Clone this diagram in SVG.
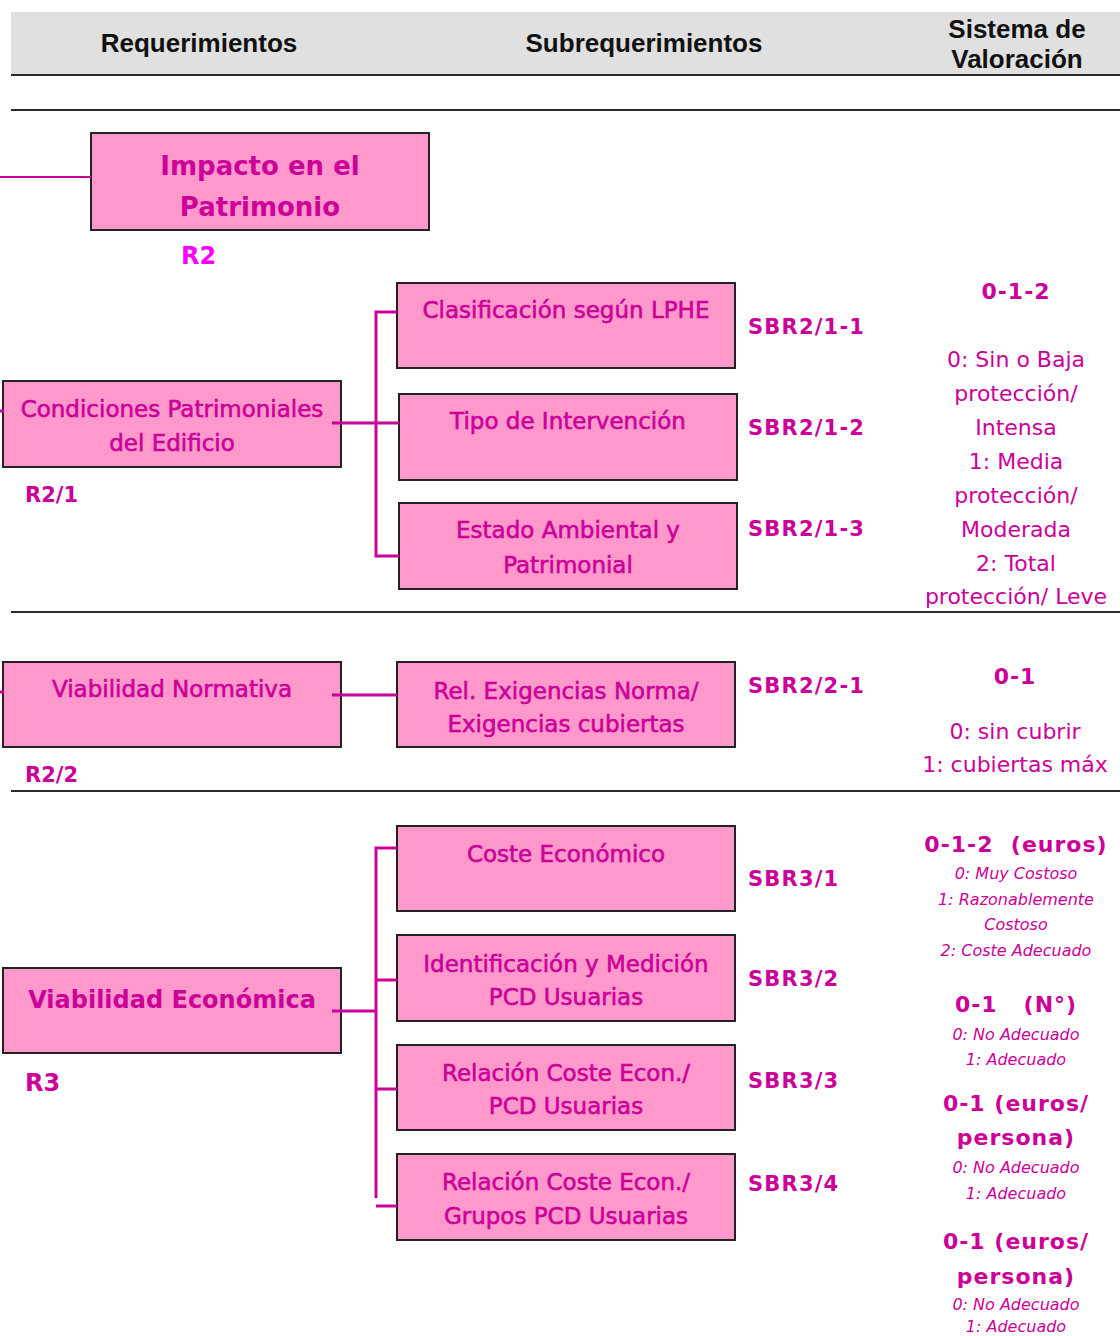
<svg xmlns="http://www.w3.org/2000/svg" width="1120" height="1336" viewBox="0 0 1120 1336">
<style>
.hdr{font-family:"Liberation Sans",Arial,sans-serif;font-weight:bold;font-size:26px;fill:#111;text-anchor:middle}
.rule{stroke:#2a2a2a;stroke-width:2;fill:none}
.box{fill:#FF99CC;stroke:#222;stroke-width:2}
.bt{font-family:"DejaVu Sans",sans-serif;font-size:23px;fill:#CC0099;stroke:#CC0099;stroke-width:0.6;text-anchor:middle}
.bb{font-family:"DejaVu Sans",sans-serif;font-weight:bold;fill:#CC0099;text-anchor:middle}
.lab{font-family:"DejaVu Sans",sans-serif;font-weight:bold;font-size:21px;fill:#CC0099}
.sbr{font-family:"DejaVu Sans",sans-serif;font-weight:bold;font-size:21px;fill:#CC0099;letter-spacing:1.2px}
.vh{font-family:"DejaVu Sans",sans-serif;font-weight:bold;font-size:22px;fill:#CC0099;text-anchor:middle;letter-spacing:1px}
.vr{font-family:"DejaVu Sans",sans-serif;font-size:22px;fill:#CC0099;text-anchor:middle}
.vs{font-family:"DejaVu Sans",sans-serif;font-style:italic;font-size:16px;fill:#CC0099;text-anchor:middle}
.con{stroke:#CC0099;stroke-width:3;fill:none}
</style>

<g id="header">
<rect x="11" y="12" width="1109" height="62" fill="#E0E0E0"/>
<text class="hdr" x="199" y="52">Requerimientos</text>
<text class="hdr" x="644" y="52">Subrequerimientos</text>
<text class="hdr" x="1017" y="38">Sistema de</text>
<text class="hdr" x="1017" y="68">Valoración</text>
<line class="rule" x1="11" y1="75" x2="1120" y2="75"/>
<line class="rule" x1="11" y1="110" x2="1120" y2="110"/>
<line class="rule" x1="11" y1="612" x2="1120" y2="612"/>
<line class="rule" x1="11" y1="791" x2="1120" y2="791"/>
</g>

<g id="node-r2">
<rect class="box" x="91" y="133" width="338" height="97"/>
<text class="bb" x="260" y="175" font-size="26">Impacto en el</text>
<text class="bb" x="260" y="216" font-size="26">Patrimonio</text>
<text class="lab" x="181" y="264" style="fill:#FF00FF;font-size:24px">R2</text>
</g>

<g id="node-r2-1">
<rect class="box" x="3" y="381" width="338" height="86"/>
<text class="bt" x="172" y="417">Condiciones Patrimoniales</text>
<text class="bt" x="172" y="451">del Edificio</text>
<text class="lab" x="25" y="502">R2/1</text>
</g>

<g id="node-sbr2-1-1">
<rect class="box" x="397" y="283" width="338" height="85"/>
<text class="bt" x="566" y="318">Clasificación según LPHE</text>
<text class="sbr" x="748" y="334">SBR2/1-1</text>
</g>
<g id="node-sbr2-1-2">
<rect class="box" x="399" y="394" width="338" height="86"/>
<text class="bt" x="568" y="429">Tipo de Intervención</text>
<text class="sbr" x="748" y="435">SBR2/1-2</text>
</g>
<g id="node-sbr2-1-3">
<rect class="box" x="399" y="503" width="338" height="86"/>
<text class="bt" x="568" y="538">Estado Ambiental y</text>
<text class="bt" x="568" y="573">Patrimonial</text>
<text class="sbr" x="748" y="536">SBR2/1-3</text>
</g>
<g id="val-r2-1">
<text class="vh" x="1016" y="299">0-1-2</text>
<text class="vr" x="1016" y="367">0: Sin o Baja</text>
<text class="vr" x="1016" y="401">protección/</text>
<text class="vr" x="1016" y="435">Intensa</text>
<text class="vr" x="1016" y="469">1: Media</text>
<text class="vr" x="1016" y="503">protección/</text>
<text class="vr" x="1016" y="537">Moderada</text>
<text class="vr" x="1016" y="571">2: Total</text>
<text class="vr" x="1016" y="604">protección/ Leve</text>
</g>

<g id="node-r2-2">
<rect class="box" x="3" y="662" width="338" height="85"/>
<text class="bt" x="172" y="697">Viabilidad Normativa</text>
<text class="lab" x="25" y="782">R2/2</text>
</g>
<g id="node-sbr2-2-1">
<rect class="box" x="397" y="662" width="338" height="85"/>
<text class="bt" x="566" y="699">Rel. Exigencias Norma/</text>
<text class="bt" x="566" y="732">Exigencias cubiertas</text>
<text class="sbr" x="748" y="693">SBR2/2-1</text>
</g>
<g id="val-r2-2">
<text class="vh" x="1015" y="684">0-1</text>
<text class="vr" x="1015" y="739">0: sin cubrir</text>
<text class="vr" x="1015" y="772">1: cubiertas máx</text>
</g>

<g id="node-r3">
<rect class="box" x="3" y="968" width="338" height="85"/>
<text class="bb" x="172" y="1008" font-size="24">Viabilidad Económica</text>
<text class="lab" x="25" y="1091" style="font-size:24px">R3</text>
</g>
<g id="node-sbr3-1">
<rect class="box" x="397" y="826" width="338" height="85"/>
<text class="bt" x="566" y="862">Coste Económico</text>
<text class="sbr" x="748" y="886">SBR3/1</text>
</g>
<g id="node-sbr3-2">
<rect class="box" x="397" y="935" width="338" height="86"/>
<text class="bt" x="566" y="972">Identificación y Medición</text>
<text class="bt" x="566" y="1005">PCD Usuarias</text>
<text class="sbr" x="748" y="986">SBR3/2</text>
</g>
<g id="node-sbr3-3">
<rect class="box" x="397" y="1045" width="338" height="85"/>
<text class="bt" x="566" y="1081">Relación Coste Econ./</text>
<text class="bt" x="566" y="1114">PCD Usuarias</text>
<text class="sbr" x="748" y="1088">SBR3/3</text>
</g>
<g id="node-sbr3-4">
<rect class="box" x="397" y="1154" width="338" height="86"/>
<text class="bt" x="566" y="1190">Relación Coste Econ./</text>
<text class="bt" x="566" y="1224">Grupos PCD Usuarias</text>
<text class="sbr" x="748" y="1191">SBR3/4</text>
</g>
<g id="val-r3">
<text class="vh" x="1016" y="852">0-1-2&#160; (euros)</text>
<text class="vs" x="1016" y="879">0: Muy Costoso</text>
<text class="vs" x="1016" y="905">1: Razonablemente</text>
<text class="vs" x="1016" y="930">Costoso</text>
<text class="vs" x="1016" y="956">2: Coste Adecuado</text>
<text class="vh" x="1016" y="1012">0-1&#160;&#160; (N°)</text>
<text class="vs" x="1016" y="1040">0: No Adecuado</text>
<text class="vs" x="1016" y="1065">1: Adecuado</text>
<text class="vh" x="1016" y="1111">0-1 (euros/</text>
<text class="vh" x="1016" y="1145">persona)</text>
<text class="vs" x="1016" y="1173">0: No Adecuado</text>
<text class="vs" x="1016" y="1199">1: Adecuado</text>
<text class="vh" x="1016" y="1249">0-1 (euros/</text>
<text class="vh" x="1016" y="1284">persona)</text>
<text class="vs" x="1016" y="1310">0: No Adecuado</text>
<text class="vs" x="1016" y="1332">1: Adecuado</text>
</g>

<g id="connectors">
<line class="con" x1="0" y1="177" x2="91" y2="177" style="stroke-width:2"/>
<line class="con" x1="0" y1="411" x2="4" y2="411"/>
<line class="con" x1="0" y1="692" x2="4" y2="692"/>
<path class="con" d="M332 423 H399 M397 312 H376 V556 H399"/>
<path class="con" d="M332 695 H397"/>
<path class="con" d="M332 1011 H376 M397 848 H376 V1198 M376 980 H397 M376 1089 H397 M376 1206 H397"/>
</g>
</svg>
